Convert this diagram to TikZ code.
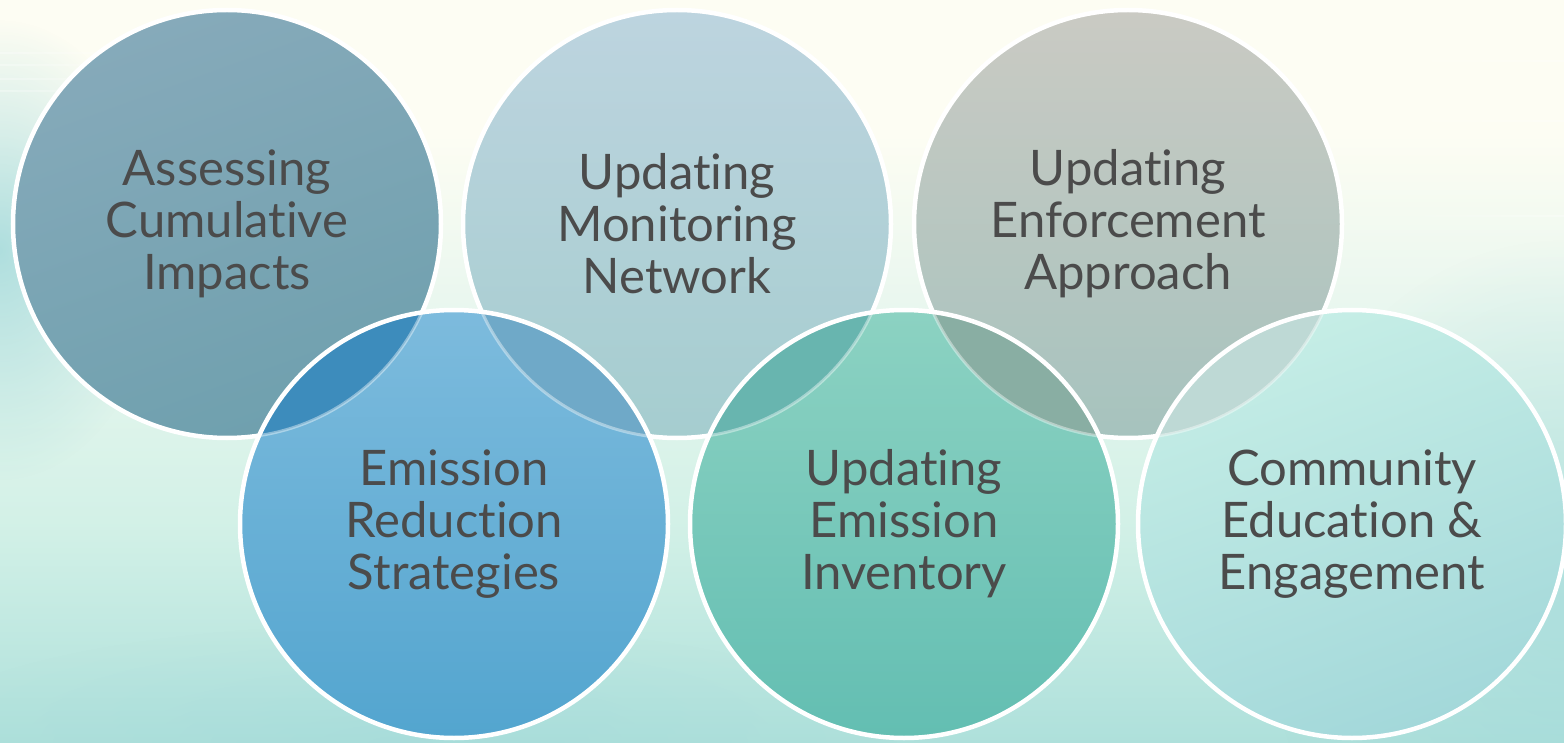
\documentclass[tikz,border=0pt]{standalone}
\usepackage{fontspec}
\setmainfont{Lato}[Ligatures={NoCommon}]
\usetikzlibrary{fadings}
\definecolor{txt}{HTML}{4B4B4B}
\definecolor{bgtop}{HTML}{FDFDF3}
\definecolor{bgmA}{HTML}{EAF7EF}
\definecolor{bgmB}{HTML}{D3F1E7}
\definecolor{bgbot}{HTML}{AEE0DB}
\definecolor{bgcy}{HTML}{9FD8DA}
\definecolor{cAt}{HTML}{86AABA}\definecolor{cAb}{HTML}{6FA0AE}
\definecolor{cBt}{HTML}{BDD4DF}\definecolor{cBb}{HTML}{A5CDCF}
\definecolor{cCt}{HTML}{CACAC3}\definecolor{cCb}{HTML}{A6C3BE}
\definecolor{cDt}{HTML}{7DBBDD}\definecolor{cDb}{HTML}{53A5CF}
\definecolor{cEt}{HTML}{8CD2C2}\definecolor{cEb}{HTML}{63BEB2}
\definecolor{cFt}{HTML}{C6EEE6}\definecolor{cFb}{HTML}{A3D8DA}
\definecolor{lAD}{HTML}{3D8CBC}
\definecolor{lBD}{HTML}{6FA9C8}
\definecolor{lBE}{HTML}{68B5AF}
\definecolor{lCE}{HTML}{89AEA3}
\definecolor{lCF}{HTML}{BED9D5}
\pgfdeclareverticalshading{bgshade}{100bp}{color(0bp)=(bgbot); color(25bp)=(bgbot); color(40bp)=(bgmB); color(55bp)=(bgmA); color(66bp)=(bgtop); color(100bp)=(bgtop)}
\tikzfading[name=softblob, inner color=transparent!0, outer color=transparent!100]
\tikzfading[name=fadeR, left color=transparent!0, right color=transparent!100]
\tikzfading[name=fadeL, left color=transparent!100, right color=transparent!0]
\begin{document}
\begin{tikzpicture}[x=1pt,y=-1pt,
  ring/.style={draw=white,line width=4.5pt},
  ghost/.style={draw=white,draw opacity=.4,line width=3pt},
  lbl/.style={text=txt,font=\fontsize{49}{52}\selectfont,align=center,inner sep=0pt}]
\useasboundingbox (0,0) rectangle (1564,743);
% background
\fill[shading=bgshade] (0,0) rectangle (1564,743);
\fill[bgcy,path fading=softblob,opacity=.8] (0,250) ellipse[x radius=160pt,y radius=230pt];
\fill[bgcy,path fading=softblob,opacity=.6] (1564,600) ellipse[x radius=300pt,y radius=360pt];
\fill[bgcy,path fading=softblob,opacity=.4] (400,743) ellipse[x radius=500pt,y radius=120pt];
\foreach \yy/\ww in {52/230,64/200,78/250,90/180}{
  \fill[white,opacity=.3,path fading=fadeR] (0,\yy) rectangle (\ww,\yy+2.5);}
\foreach \yy/\ww in {60,120,215}{
  \fill[white,opacity=.3,path fading=fadeL] (1380,\yy) rectangle (1564,\yy+2.5);}
% centres
\def\R{214pt}
\coordinate (p1) at (227,224);
\coordinate (p2) at (677,224);
\coordinate (p3) at (1128,224);
\coordinate (p4) at (454,524);
\coordinate (p5) at (904,524);
\coordinate (p6) at (1352,524);
% top row
\fill[top color=cAt,bottom color=cAb,shading angle=20] (p1) circle[radius=\R];
\fill[top color=cBt,bottom color=cBb] (p2) circle[radius=\R];
\fill[top color=cCt,bottom color=cCb] (p3) circle[radius=\R];
\draw[ring] (p1) circle[radius=\R] (p2) circle[radius=\R] (p3) circle[radius=\R];
% bottom row
\fill[top color=cDt,bottom color=cDb] (p4) circle[radius=\R];
\fill[top color=cEt,bottom color=cEb] (p5) circle[radius=\R];
\fill[top color=cFt,bottom color=cFb,shading angle=20] (p6) circle[radius=\R];
% lenses
\begin{scope}\clip (p1) circle[radius=\R]; \fill[lAD] (p4) circle[radius=\R]; \end{scope}
\begin{scope}\clip (p2) circle[radius=\R]; \fill[lBD] (p4) circle[radius=\R]; \fill[lBE] (p5) circle[radius=\R]; \end{scope}
\begin{scope}\clip (p3) circle[radius=\R]; \fill[lCE] (p5) circle[radius=\R]; \fill[lCF] (p6) circle[radius=\R]; \end{scope}
% ghost outlines of top circles seen through bottom row
\begin{scope}\clip (p4) circle[radius=\R] (p5) circle[radius=\R] (p6) circle[radius=\R];
\draw[ghost] (p1) circle[radius=\R] (p2) circle[radius=\R] (p3) circle[radius=\R];
\end{scope}
\draw[ring] (p4) circle[radius=\R] (p5) circle[radius=\R] (p6) circle[radius=\R];
% labels
\node[lbl] (t1) at (p1) {Assessing\\Cumulative\\Impacts};
\node[lbl] (t2) at (p2) {Updating\\Monitoring\\Network};
\node[lbl] (t3) at (p3) {Updating\\Enforcement\\Approach};
\node[lbl] (t4) at (p4) {Emission\\Reduction\\Strategies};
\node[lbl] (t5) at (p5) {Updating\\Emission\\Inventory};
\node[lbl] (t6) at (p6) {Community\\Education \&\\Engagement};
\end{tikzpicture}
\end{document}
